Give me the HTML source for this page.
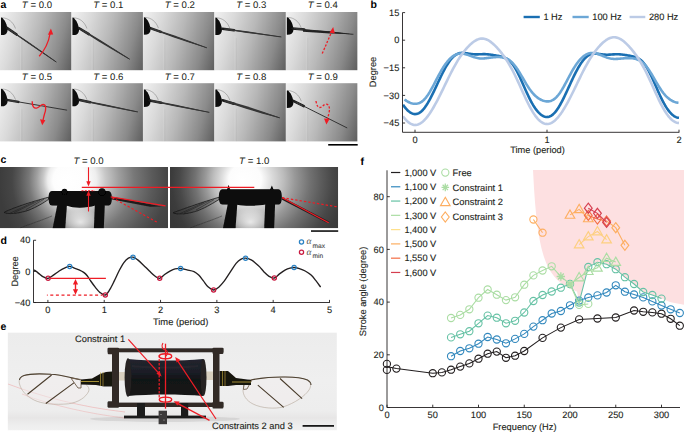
<!DOCTYPE html>
<html><head><meta charset="utf-8"><style>
html,body{margin:0;padding:0;background:#fff;}
body{width:685px;height:433px;overflow:hidden;}
svg{display:block;font-family:"Liberation Sans", sans-serif;text-rendering:geometricPrecision;}
</style></head><body>
<svg width="685" height="433" viewBox="0 0 685 433">
<defs><linearGradient id="ga" gradientUnits="userSpaceOnUse" x1="0" y1="0" x2="81.9" y2="23"><stop offset="0" stop-color="rgb(242,242,242)"/><stop offset="0.235" stop-color="rgb(218,218,218)"/><stop offset="0.5" stop-color="rgb(184,184,184)"/><stop offset="0.79" stop-color="rgb(138,138,138)"/><stop offset="1" stop-color="rgb(92,92,92)"/></linearGradient><filter id="soft" x="-5%" y="-5%" width="110%" height="110%"><feGaussianBlur stdDeviation="0.45"/></filter><filter id="soft2" x="-10%" y="-10%" width="120%" height="120%"><feGaussianBlur stdDeviation="0.3"/></filter><radialGradient id="gc1" gradientUnits="userSpaceOnUse" cx="96.5" cy="180" r="97.5" fx="64" fy="180"><stop offset="0" stop-color="rgb(255,255,255)"/><stop offset="0.17" stop-color="rgb(253,253,253)"/><stop offset="0.25" stop-color="rgb(238,238,238)"/><stop offset="0.32" stop-color="rgb(200,200,200)"/><stop offset="0.42" stop-color="rgb(160,160,160)"/><stop offset="0.54" stop-color="rgb(120,120,120)"/><stop offset="0.68" stop-color="rgb(90,90,90)"/><stop offset="0.8" stop-color="rgb(70,70,70)"/><stop offset="1.0" stop-color="rgb(60,60,60)"/></radialGradient><radialGradient id="gc2" gradientUnits="userSpaceOnUse" cx="259.5" cy="180" r="95.5" fx="242" fy="180"><stop offset="0" stop-color="rgb(255,255,255)"/><stop offset="0.17" stop-color="rgb(252,252,252)"/><stop offset="0.27" stop-color="rgb(218,218,218)"/><stop offset="0.37" stop-color="rgb(188,188,188)"/><stop offset="0.47" stop-color="rgb(152,152,152)"/><stop offset="0.6" stop-color="rgb(114,114,114)"/><stop offset="0.7" stop-color="rgb(92,92,92)"/><stop offset="0.8" stop-color="rgb(72,72,72)"/><stop offset="0.9" stop-color="rgb(60,60,60)"/><stop offset="1.0" stop-color="rgb(56,56,56)"/></radialGradient><radialGradient id="gglow"><stop offset="0" stop-color="#fff" stop-opacity="0.75"/><stop offset="0.6" stop-color="#fff" stop-opacity="0.35"/><stop offset="1" stop-color="#fff" stop-opacity="0"/></radialGradient><linearGradient id="gctop" x1="0" y1="0" x2="0" y2="1"><stop offset="0" stop-color="#000" stop-opacity="0.0"/><stop offset="0.35" stop-color="#000" stop-opacity="0"/></linearGradient><clipPath id="cc1"><rect x="0" y="167" width="168" height="61.3"/></clipPath><clipPath id="cc2"><rect x="170" y="167" width="168.2" height="61.3"/></clipPath><linearGradient id="ge" x1="0" y1="0" x2="0" y2="1"><stop offset="0" stop-color="#ececec"/><stop offset="0.5" stop-color="#efefef"/><stop offset="0.8" stop-color="#ededed"/><stop offset="0.87" stop-color="#e7e6e6"/><stop offset="0.95" stop-color="#eeeeee"/><stop offset="1" stop-color="#f1f1f1"/></linearGradient><linearGradient id="gcoil" x1="0" y1="0" x2="0" y2="1"><stop offset="0" stop-color="#22252e"/><stop offset="0.35" stop-color="#1b1e27"/><stop offset="0.55" stop-color="#111216"/><stop offset="1" stop-color="#141414"/></linearGradient><clipPath id="ce"><rect x="7.6" y="332.4" width="329.3" height="98.1"/></clipPath></defs>
<text x="0.5" y="7.9" font-size="10.5" text-anchor="start" font-weight="bold" font-style="normal" fill="#000" stroke="#000" stroke-width="0" >a</text>
<text x="370.5" y="7.9" font-size="10.5" text-anchor="start" font-weight="bold" font-style="normal" fill="#000" stroke="#000" stroke-width="0" >b</text>
<text x="0.5" y="163.2" font-size="10.5" text-anchor="start" font-weight="bold" font-style="normal" fill="#000" stroke="#000" stroke-width="0" >c</text>
<text x="0.5" y="243.5" font-size="10.5" text-anchor="start" font-weight="bold" font-style="normal" fill="#000" stroke="#000" stroke-width="0" >d</text>
<text x="0.5" y="329.8" font-size="10.5" text-anchor="start" font-weight="bold" font-style="normal" fill="#000" stroke="#000" stroke-width="0" >e</text>
<text x="360.4" y="165.2" font-size="10.5" text-anchor="start" font-weight="bold" font-style="normal" fill="#000" stroke="#000" stroke-width="0" >f</text>
<path d="M403,104.67 L404,106.1 L405,107.42 L406,108.63 L407,109.72 L408,110.7 L409,111.55 L410,112.29 L411,112.91 L412,113.4 L413,113.76 L414,114 L415,114.09 L416,114.05 L417,113.87 L418,113.55 L419,113.08 L420,112.47 L421,111.71 L422,110.81 L423,109.77 L424,108.59 L425,107.28 L426,105.85 L427,104.31 L428,102.65 L429,100.9 L430,99.06 L431,97.15 L432,95.17 L433,93.13 L434,91.06 L435,88.95 L436,86.83 L437,84.7 L438,82.56 L439,80.44 L440,78.34 L441,76.28 L442,74.25 L443,72.27 L444,70.35 L445,68.5 L446,66.73 L447,65.04 L448,63.44 L449,61.94 L450,60.55 L451,59.26 L452,58.1 L453,57.06 L454,56.13 L455,55.33 L456,54.66 L457,54.1 L458,53.65 L459,53.32 L460,53.09 L461,52.94 L462,52.88 L463,52.89 L464,52.96 L465,53.07 L466,53.21 L467,53.37 L468,53.54 L469,53.72 L470,53.88 L471,54.02 L472,54.14 L473,54.24 L474,54.3 L475,54.35 L476,54.36 L477,54.35 L478,54.33 L479,54.3 L480,54.26 L481,54.21 L482,54.18 L483,54.16 L484,54.15 L485,54.16 L486,54.19 L487,54.25 L488,54.33 L489,54.43 L490,54.55 L491,54.69 L492,54.84 L493,54.99 L494,55.16 L495,55.33 L496,55.51 L497,55.68 L498,55.87 L499,56.06 L500,56.26 L501,56.49 L502,56.75 L503,57.05 L504,57.39 L505,57.81 L506,58.3 L507,58.87 L508,59.55 L509,60.35 L510,61.26 L511,62.3 L512,63.48 L513,64.8 L514,66.25 L515,67.84 L516,69.55 L517,71.39 L518,73.33 L519,75.37 L520,77.5 L521,79.68 L522,81.92 L523,84.18 L524,86.45 L525,88.72 L526,90.96 L527,93.16 L528,95.31 L529,97.4 L530,99.4 L531,101.32 L532,103.15 L533,104.87 L534,106.49 L535,108 L536,109.4 L537,110.69 L538,111.86 L539,112.92 L540,113.86 L541,114.69 L542,115.39 L543,115.97 L544,116.42 L545,116.75 L546,116.94 L547,117 L548,116.92 L549,116.7 L550,116.33 L551,115.82 L552,115.17 L553,114.37 L554,113.42 L555,112.34 L556,111.12 L557,109.76 L558,108.29 L559,106.69 L560,105 L561,103.2 L562,101.31 L563,99.35 L564,97.33 L565,95.25 L566,93.13 L567,90.97 L568,88.8 L569,86.62 L570,84.44 L571,82.27 L572,80.13 L573,78.01 L574,75.94 L575,73.92 L576,71.95 L577,70.05 L578,68.23 L579,66.5 L580,64.85 L581,63.31 L582,61.87 L583,60.54 L584,59.33 L585,58.24 L586,57.28 L587,56.44 L588,55.71 L589,55.11 L590,54.63 L591,54.25 L592,53.98 L593,53.79 L594,53.69 L595,53.66 L596,53.69 L597,53.76 L598,53.87 L599,53.99 L600,54.13 L601,54.26 L602,54.39 L603,54.5 L604,54.59 L605,54.65 L606,54.69 L607,54.7 L608,54.69 L609,54.65 L610,54.6 L611,54.54 L612,54.47 L613,54.4 L614,54.35 L615,54.3 L616,54.27 L617,54.26 L618,54.27 L619,54.31 L620,54.37 L621,54.45 L622,54.56 L623,54.68 L624,54.81 L625,54.96 L626,55.11 L627,55.27 L628,55.44 L629,55.61 L630,55.78 L631,55.97 L632,56.17 L633,56.39 L634,56.65 L635,56.94 L636,57.29 L637,57.7 L638,58.19 L639,58.78 L640,59.46 L641,60.26 L642,61.17 L643,62.22 L644,63.41 L645,64.74 L646,66.2 L647,67.8 L648,69.53 L649,71.37 L650,73.34 L651,75.39 L652,77.53 L653,79.74 L654,81.99 L655,84.27 L656,86.56 L657,88.85 L658,91.12 L659,93.34 L660,95.52 L661,97.63 L662,99.66 L663,101.61 L664,103.46 L665,105.21 L666,106.86 L667,108.41 L668,109.84 L669,111.16 L670,112.37 L671,113.46 L672,114.43 L673,115.29 L674,116.03 L675,116.65 L676,117.14 L677,117.5 L678,117.74 L679,117.83" fill="none" stroke="#1a6fb2" stroke-width="2.6" stroke-linejoin="round" stroke-linecap="butt"/>
<path d="M404.5,99.41 L405.5,100.18 L406.5,100.87 L407.5,101.49 L408.5,102.03 L409.5,102.5 L410.5,102.9 L411.5,103.23 L412.5,103.49 L413.5,103.67 L414.5,103.78 L415.5,103.81 L416.5,103.74 L417.5,103.58 L418.5,103.32 L419.5,102.95 L420.5,102.46 L421.5,101.84 L422.5,101.11 L423.5,100.24 L424.5,99.24 L425.5,98.11 L426.5,96.86 L427.5,95.48 L428.5,93.99 L429.5,92.4 L430.5,90.71 L431.5,88.95 L432.5,87.12 L433.5,85.24 L434.5,83.33 L435.5,81.4 L436.5,79.47 L437.5,77.55 L438.5,75.66 L439.5,73.81 L440.5,72.01 L441.5,70.26 L442.5,68.59 L443.5,66.99 L444.5,65.48 L445.5,64.05 L446.5,62.71 L447.5,61.46 L448.5,60.31 L449.5,59.24 L450.5,58.27 L451.5,57.39 L452.5,56.61 L453.5,55.92 L454.5,55.31 L455.5,54.8 L456.5,54.38 L457.5,54.04 L458.5,53.79 L459.5,53.63 L460.5,53.54 L461.5,53.53 L462.5,53.6 L463.5,53.73 L464.5,53.92 L465.5,54.16 L466.5,54.45 L467.5,54.78 L468.5,55.13 L469.5,55.5 L470.5,55.88 L471.5,56.26 L472.5,56.63 L473.5,56.97 L474.5,57.3 L475.5,57.59 L476.5,57.84 L477.5,58.05 L478.5,58.22 L479.5,58.35 L480.5,58.43 L481.5,58.47 L482.5,58.47 L483.5,58.43 L484.5,58.36 L485.5,58.27 L486.5,58.16 L487.5,58.03 L488.5,57.9 L489.5,57.76 L490.5,57.62 L491.5,57.49 L492.5,57.37 L493.5,57.26 L494.5,57.17 L495.5,57.1 L496.5,57.05 L497.5,57.02 L498.5,57.02 L499.5,57.06 L500.5,57.13 L501.5,57.25 L502.5,57.4 L503.5,57.62 L504.5,57.89 L505.5,58.22 L506.5,58.63 L507.5,59.12 L508.5,59.7 L509.5,60.36 L510.5,61.13 L511.5,61.99 L512.5,62.96 L513.5,64.04 L514.5,65.22 L515.5,66.49 L516.5,67.87 L517.5,69.32 L518.5,70.86 L519.5,72.46 L520.5,74.12 L521.5,75.81 L522.5,77.52 L523.5,79.25 L524.5,80.96 L525.5,82.65 L526.5,84.31 L527.5,85.91 L528.5,87.45 L529.5,88.92 L530.5,90.32 L531.5,91.63 L532.5,92.85 L533.5,93.98 L534.5,95.02 L535.5,95.97 L536.5,96.83 L537.5,97.62 L538.5,98.32 L539.5,98.95 L540.5,99.5 L541.5,99.99 L542.5,100.4 L543.5,100.75 L544.5,101.03 L545.5,101.24 L546.5,101.36 L547.5,101.41 L548.5,101.37 L549.5,101.23 L550.5,100.99 L551.5,100.65 L552.5,100.19 L553.5,99.6 L554.5,98.89 L555.5,98.05 L556.5,97.09 L557.5,95.99 L558.5,94.77 L559.5,93.43 L560.5,91.97 L561.5,90.41 L562.5,88.77 L563.5,87.04 L564.5,85.25 L565.5,83.41 L566.5,81.54 L567.5,79.65 L568.5,77.76 L569.5,75.88 L570.5,74.03 L571.5,72.22 L572.5,70.46 L573.5,68.76 L574.5,67.14 L575.5,65.58 L576.5,64.11 L577.5,62.73 L578.5,61.44 L579.5,60.24 L580.5,59.13 L581.5,58.11 L582.5,57.19 L583.5,56.36 L584.5,55.62 L585.5,54.98 L586.5,54.43 L587.5,53.96 L588.5,53.59 L589.5,53.31 L590.5,53.11 L591.5,52.99 L592.5,52.95 L593.5,53 L594.5,53.11 L595.5,53.29 L596.5,53.53 L597.5,53.82 L598.5,54.16 L599.5,54.54 L600.5,54.94 L601.5,55.36 L602.5,55.79 L603.5,56.22 L604.5,56.63 L605.5,57.03 L606.5,57.4 L607.5,57.74 L608.5,58.04 L609.5,58.3 L610.5,58.52 L611.5,58.69 L612.5,58.81 L613.5,58.9 L614.5,58.94 L615.5,58.95 L616.5,58.92 L617.5,58.88 L618.5,58.81 L619.5,58.72 L620.5,58.63 L621.5,58.53 L622.5,58.43 L623.5,58.34 L624.5,58.26 L625.5,58.18 L626.5,58.13 L627.5,58.09 L628.5,58.07 L629.5,58.08 L630.5,58.12 L631.5,58.19 L632.5,58.29 L633.5,58.43 L634.5,58.62 L635.5,58.86 L636.5,59.16 L637.5,59.52 L638.5,59.95 L639.5,60.47 L640.5,61.06 L641.5,61.75 L642.5,62.54 L643.5,63.42 L644.5,64.41 L645.5,65.51 L646.5,66.7 L647.5,67.99 L648.5,69.38 L649.5,70.85 L650.5,72.4 L651.5,74.01 L652.5,75.67 L653.5,77.37 L654.5,79.1 L655.5,80.82 L656.5,82.54 L657.5,84.24 L658.5,85.9 L659.5,87.5 L660.5,89.04 L661.5,90.51 L662.5,91.9 L663.5,93.21 L664.5,94.42 L665.5,95.55 L666.5,96.58 L667.5,97.52 L668.5,98.38 L669.5,99.15 L670.5,99.84 L671.5,100.46 L672.5,101 L673.5,101.47 L674.5,101.87 L675.5,102.2 L676.5,102.46 L677.5,102.65 L678.5,102.75" fill="none" stroke="#6ca7d6" stroke-width="2.6" stroke-linejoin="round" stroke-linecap="butt"/>
<path d="M403,116.2 L404,117.55 L405,118.8 L406,119.94 L407,120.97 L408,121.88 L409,122.68 L410,123.35 L411,123.91 L412,124.35 L413,124.67 L414,124.87 L415,124.95 L416,124.91 L417,124.75 L418,124.47 L419,124.08 L420,123.58 L421,122.96 L422,122.24 L423,121.41 L424,120.49 L425,119.46 L426,118.34 L427,117.13 L428,115.84 L429,114.46 L430,113.01 L431,111.48 L432,109.89 L433,108.23 L434,106.51 L435,104.73 L436,102.91 L437,101.04 L438,99.12 L439,97.17 L440,95.18 L441,93.17 L442,91.13 L443,89.08 L444,87.01 L445,84.94 L446,82.88 L447,80.82 L448,78.77 L449,76.74 L450,74.74 L451,72.76 L452,70.83 L453,68.93 L454,67.08 L455,65.27 L456,63.52 L457,61.82 L458,60.18 L459,58.59 L460,57.06 L461,55.59 L462,54.17 L463,52.81 L464,51.51 L465,50.26 L466,49.06 L467,47.92 L468,46.83 L469,45.79 L470,44.82 L471,43.9 L472,43.04 L473,42.25 L474,41.52 L475,40.86 L476,40.28 L477,39.78 L478,39.36 L479,39.03 L480,38.78 L481,38.63 L482,38.57 L483,38.6 L484,38.73 L485,38.95 L486,39.27 L487,39.67 L488,40.17 L489,40.74 L490,41.39 L491,42.11 L492,42.91 L493,43.76 L494,44.67 L495,45.64 L496,46.65 L497,47.72 L498,48.82 L499,49.97 L500,51.16 L501,52.4 L502,53.67 L503,55 L504,56.37 L505,57.79 L506,59.26 L507,60.79 L508,62.38 L509,64.03 L510,65.74 L511,67.52 L512,69.36 L513,71.26 L514,73.23 L515,75.24 L516,77.31 L517,79.43 L518,81.58 L519,83.77 L520,85.97 L521,88.19 L522,90.41 L523,92.63 L524,94.83 L525,97 L526,99.14 L527,101.23 L528,103.26 L529,105.23 L530,107.13 L531,108.96 L532,110.69 L533,112.34 L534,113.89 L535,115.35 L536,116.69 L537,117.93 L538,119.06 L539,120.08 L540,120.99 L541,121.77 L542,122.44 L543,122.99 L544,123.42 L545,123.73 L546,123.92 L547,124 L548,123.95 L549,123.78 L550,123.5 L551,123.1 L552,122.58 L553,121.96 L554,121.23 L555,120.39 L556,119.46 L557,118.42 L558,117.29 L559,116.08 L560,114.77 L561,113.39 L562,111.93 L563,110.39 L564,108.79 L565,107.12 L566,105.4 L567,103.62 L568,101.78 L569,99.9 L570,97.98 L571,96.02 L572,94.03 L573,92 L574,89.96 L575,87.9 L576,85.83 L577,83.75 L578,81.68 L579,79.61 L580,77.56 L581,75.52 L582,73.51 L583,71.53 L584,69.59 L585,67.69 L586,65.83 L587,64.02 L588,62.26 L589,60.56 L590,58.91 L591,57.32 L592,55.79 L593,54.31 L594,52.89 L595,51.52 L596,50.21 L597,48.96 L598,47.76 L599,46.61 L600,45.52 L601,44.48 L602,43.5 L603,42.58 L604,41.72 L605,40.93 L606,40.2 L607,39.54 L608,38.96 L609,38.45 L610,38.03 L611,37.69 L612,37.45 L613,37.29 L614,37.23 L615,37.27 L616,37.4 L617,37.62 L618,37.94 L619,38.34 L620,38.83 L621,39.41 L622,40.06 L623,40.79 L624,41.58 L625,42.43 L626,43.35 L627,44.32 L628,45.33 L629,46.4 L630,47.51 L631,48.66 L632,49.85 L633,51.09 L634,52.37 L635,53.7 L636,55.07 L637,56.5 L638,57.98 L639,59.51 L640,61.1 L641,62.76 L642,64.48 L643,66.26 L644,68.1 L645,70.01 L646,71.98 L647,74 L648,76.08 L649,78.2 L650,80.36 L651,82.55 L652,84.76 L653,86.99 L654,89.22 L655,91.44 L656,93.65 L657,95.83 L658,97.97 L659,100.07 L660,102.11 L661,104.09 L662,106 L663,107.82 L664,109.57 L665,111.23 L666,112.78 L667,114.24 L668,115.6 L669,116.85 L670,117.99 L671,119.01 L672,119.93 L673,120.72 L674,121.4 L675,121.96 L676,122.4 L677,122.72 L678,122.91 L679,122.99" fill="none" stroke="#bccbe6" stroke-width="2.6" stroke-linejoin="round" stroke-linecap="butt"/>
<path d="M402.5,12.600000000000001 V132.3 H679.3" fill="none" stroke="#231f20" stroke-width="0.9"/>
<line x1="402.5" y1="12.6" x2="405.1" y2="12.6" stroke="#231f20" stroke-width="0.9" />
<text x="399.3" y="15.8" font-size="9.25" text-anchor="end" font-weight="normal" font-style="normal" fill="#231f20" stroke="#231f20" stroke-width="0.12" >15</text>
<line x1="402.5" y1="40.2" x2="405.1" y2="40.2" stroke="#231f20" stroke-width="0.9" />
<text x="399.3" y="43.4" font-size="9.25" text-anchor="end" font-weight="normal" font-style="normal" fill="#231f20" stroke="#231f20" stroke-width="0.12" >0</text>
<line x1="402.5" y1="67.8" x2="405.1" y2="67.8" stroke="#231f20" stroke-width="0.9" />
<text x="399.3" y="71" font-size="9.25" text-anchor="end" font-weight="normal" font-style="normal" fill="#231f20" stroke="#231f20" stroke-width="0.12" >−15</text>
<line x1="402.5" y1="95.4" x2="405.1" y2="95.4" stroke="#231f20" stroke-width="0.9" />
<text x="399.3" y="98.6" font-size="9.25" text-anchor="end" font-weight="normal" font-style="normal" fill="#231f20" stroke="#231f20" stroke-width="0.12" >−30</text>
<line x1="402.5" y1="123" x2="405.1" y2="123" stroke="#231f20" stroke-width="0.9" />
<text x="399.3" y="126.2" font-size="9.25" text-anchor="end" font-weight="normal" font-style="normal" fill="#231f20" stroke="#231f20" stroke-width="0.12" >−45</text>
<line x1="415" y1="132.3" x2="415" y2="129.7" stroke="#231f20" stroke-width="0.9" />
<text x="415" y="142.6" font-size="9.25" text-anchor="middle" font-weight="normal" font-style="normal" fill="#231f20" stroke="#231f20" stroke-width="0.12" >0</text>
<line x1="547" y1="132.3" x2="547" y2="129.7" stroke="#231f20" stroke-width="0.9" />
<text x="547" y="142.6" font-size="9.25" text-anchor="middle" font-weight="normal" font-style="normal" fill="#231f20" stroke="#231f20" stroke-width="0.12" >1</text>
<line x1="679" y1="132.3" x2="679" y2="129.7" stroke="#231f20" stroke-width="0.9" />
<text x="679" y="142.6" font-size="9.25" text-anchor="middle" font-weight="normal" font-style="normal" fill="#231f20" stroke="#231f20" stroke-width="0.12" >2</text>
<text x="537.5" y="153" font-size="9.25" text-anchor="middle" font-weight="normal" font-style="normal" fill="#231f20" stroke="#231f20" stroke-width="0.12" >Time (period)</text>
<text transform="translate(376.2,72) rotate(-90)" x="0" y="0" font-size="9.25" text-anchor="middle" fill="#231f20" stroke="#231f20" stroke-width="0.12">Degree</text>
<line x1="523.6" y1="17" x2="539.8" y2="17" stroke="#1a6fb2" stroke-width="2.4" />
<text x="543.4" y="20.2" font-size="9.25" text-anchor="start" font-weight="normal" font-style="normal" fill="#231f20" stroke="#231f20" stroke-width="0.12" >1 Hz</text>
<line x1="572.5" y1="17" x2="588.7" y2="17" stroke="#6ca7d6" stroke-width="2.4" />
<text x="592.3" y="20.2" font-size="9.25" text-anchor="start" font-weight="normal" font-style="normal" fill="#231f20" stroke="#231f20" stroke-width="0.12" >100 Hz</text>
<line x1="629.6" y1="17" x2="645.3" y2="17" stroke="#bccbe6" stroke-width="2.4" />
<text x="648.9" y="20.2" font-size="9.25" text-anchor="start" font-weight="normal" font-style="normal" fill="#231f20" stroke="#231f20" stroke-width="0.12" >280 Hz</text>
<path d="M34.1,269.9 C34.38,270.08 34.93,270.33 35.8,271 C36.67,271.67 38.13,272.97 39.3,273.9 C40.47,274.83 41.33,275.87 42.8,276.6 C44.27,277.33 46.33,278.55 48.1,278.3 C49.87,278.05 51.55,276.32 53.4,275.1 C55.25,273.88 57.27,272.22 59.2,271 C61.13,269.78 63.25,268.57 65,267.8 C66.75,267.03 68.13,266.35 69.7,266.4 C71.27,266.45 72.83,267.52 74.4,268.1 C75.97,268.68 77.55,269.18 79.1,269.9 C80.65,270.62 82.35,271.43 83.7,272.4 C85.05,273.37 86.03,274.27 87.2,275.7 C88.37,277.13 89.33,279.05 90.7,281 C92.07,282.95 93.83,285.47 95.4,287.4 C96.97,289.33 98.45,291.33 100.1,292.6 C101.75,293.87 103.7,295.48 105.3,295 C106.9,294.52 108.2,292.05 109.7,289.7 C111.2,287.35 112.75,284.02 114.3,280.9 C115.85,277.78 117.43,274.02 119,271 C120.57,267.98 122.13,264.93 123.7,262.8 C125.27,260.67 126.85,259.13 128.4,258.2 C129.95,257.27 131.45,256.92 133,257.2 C134.55,257.48 135.95,258.57 137.7,259.9 C139.45,261.23 141.55,263.35 143.5,265.2 C145.45,267.05 147.45,269.15 149.4,271 C151.35,272.85 153.48,275.08 155.2,276.3 C156.92,277.52 158.13,278.6 159.7,278.3 C161.27,278 162.82,275.75 164.6,274.5 C166.38,273.25 168.65,271.73 170.4,270.8 C172.15,269.87 173.4,269.28 175.1,268.9 C176.8,268.52 178.62,268.33 180.6,268.5 C182.58,268.67 184.77,269.38 187,269.9 C189.23,270.42 192.05,270.73 194,271.6 C195.95,272.47 197.13,273.55 198.7,275.1 C200.27,276.65 201.85,278.95 203.4,280.9 C204.95,282.85 206.3,285.28 208,286.8 C209.7,288.32 211.85,289.9 213.6,290 C215.35,290.1 216.7,288.92 218.5,287.4 C220.3,285.88 222.45,283.43 224.4,280.9 C226.35,278.37 228.25,275.12 230.2,272.2 C232.15,269.28 234.35,265.55 236.1,263.4 C237.85,261.25 239.12,260.17 240.7,259.3 C242.28,258.43 243.85,258.1 245.6,258.2 C247.35,258.3 249.48,259.03 251.2,259.9 C252.92,260.77 254.48,262.23 255.9,263.4 C257.32,264.57 258.3,265.43 259.7,266.9 C261.1,268.37 262.75,270.63 264.3,272.2 C265.85,273.77 267.33,275.33 269,276.3 C270.67,277.27 272.55,278.4 274.3,278 C276.05,277.6 277.65,275.25 279.5,273.9 C281.35,272.55 283.65,270.87 285.4,269.9 C287.15,268.93 288.55,268.5 290,268.1 C291.45,267.7 292.53,267.4 294.1,267.5 C295.67,267.6 297.55,268.12 299.4,268.7 C301.25,269.28 303.25,269.93 305.2,271 C307.15,272.07 309.35,273.53 311.1,275.1 C312.85,276.67 314.12,278.4 315.7,280.4 C317.28,282.4 319.78,285.98 320.6,287.1" fill="none" stroke="#231f20" stroke-width="1.35"/>
<path d="M33.5,240.28 V302.5 H329.9" fill="none" stroke="#231f20" stroke-width="0.9"/>
<line x1="33.5" y1="240.28" x2="36.1" y2="240.28" stroke="#231f20" stroke-width="0.9" />
<text x="30.4" y="243.48" font-size="9.25" text-anchor="end" font-weight="normal" font-style="normal" fill="#231f20" stroke="#231f20" stroke-width="0.12" >40</text>
<line x1="33.5" y1="271.4" x2="36.1" y2="271.4" stroke="#231f20" stroke-width="0.9" />
<text x="30.4" y="274.6" font-size="9.25" text-anchor="end" font-weight="normal" font-style="normal" fill="#231f20" stroke="#231f20" stroke-width="0.12" >0</text>
<line x1="33.5" y1="302.52" x2="36.1" y2="302.52" stroke="#231f20" stroke-width="0.9" />
<text x="30.4" y="305.72" font-size="9.25" text-anchor="end" font-weight="normal" font-style="normal" fill="#231f20" stroke="#231f20" stroke-width="0.12" >−40</text>
<line x1="47.9" y1="302.5" x2="47.9" y2="299.9" stroke="#231f20" stroke-width="0.9" />
<text x="47.9" y="312.9" font-size="9.25" text-anchor="middle" font-weight="normal" font-style="normal" fill="#231f20" stroke="#231f20" stroke-width="0.12" >0</text>
<line x1="104.22" y1="302.5" x2="104.22" y2="299.9" stroke="#231f20" stroke-width="0.9" />
<text x="104.22" y="312.9" font-size="9.25" text-anchor="middle" font-weight="normal" font-style="normal" fill="#231f20" stroke="#231f20" stroke-width="0.12" >1</text>
<line x1="160.54" y1="302.5" x2="160.54" y2="299.9" stroke="#231f20" stroke-width="0.9" />
<text x="160.54" y="312.9" font-size="9.25" text-anchor="middle" font-weight="normal" font-style="normal" fill="#231f20" stroke="#231f20" stroke-width="0.12" >2</text>
<line x1="216.86" y1="302.5" x2="216.86" y2="299.9" stroke="#231f20" stroke-width="0.9" />
<text x="216.86" y="312.9" font-size="9.25" text-anchor="middle" font-weight="normal" font-style="normal" fill="#231f20" stroke="#231f20" stroke-width="0.12" >3</text>
<line x1="273.18" y1="302.5" x2="273.18" y2="299.9" stroke="#231f20" stroke-width="0.9" />
<text x="273.18" y="312.9" font-size="9.25" text-anchor="middle" font-weight="normal" font-style="normal" fill="#231f20" stroke="#231f20" stroke-width="0.12" >4</text>
<line x1="329.5" y1="302.5" x2="329.5" y2="299.9" stroke="#231f20" stroke-width="0.9" />
<text x="329.5" y="312.9" font-size="9.25" text-anchor="middle" font-weight="normal" font-style="normal" fill="#231f20" stroke="#231f20" stroke-width="0.12" >5</text>
<text x="180.6" y="324.9" font-size="9.4" text-anchor="middle" font-weight="normal" font-style="normal" fill="#231f20" stroke="#231f20" stroke-width="0.12" >Time (period)</text>
<text transform="translate(18,271.4) rotate(-90)" x="0" y="0" font-size="9.25" text-anchor="middle" fill="#231f20" stroke="#231f20" stroke-width="0.12">Degree</text>
<line x1="50.4" y1="278.3" x2="105.9" y2="278.3" stroke="#ee1c25" stroke-width="1.35" />
<line x1="46.9" y1="295.2" x2="102.4" y2="295.2" stroke="#ee1c25" stroke-width="1.3" stroke-dasharray="3,2.6" stroke-dashoffset="2.2"/>
<line x1="75.5" y1="283" x2="75.5" y2="290.6" stroke="#ee1c25" stroke-width="1.4" />
<path d="M75.5,279.0 L72.9,284.6 L78.1,284.6 Z M75.5,294.8 L72.9,289.2 L78.1,289.2 Z" fill="#ee1c25"/>
<circle cx="48.1" cy="278.3" r="2.1" fill="none" stroke="#c8193f" stroke-width="1.25"/>
<circle cx="105.3" cy="295" r="2.1" fill="none" stroke="#c8193f" stroke-width="1.25"/>
<circle cx="159.7" cy="278.3" r="2.1" fill="none" stroke="#c8193f" stroke-width="1.25"/>
<circle cx="213.6" cy="290" r="2.1" fill="none" stroke="#c8193f" stroke-width="1.25"/>
<circle cx="274.3" cy="278" r="2.1" fill="none" stroke="#c8193f" stroke-width="1.25"/>
<circle cx="69.7" cy="266.4" r="2.1" fill="none" stroke="#2a82c4" stroke-width="1.25"/>
<circle cx="133" cy="257.2" r="2.1" fill="none" stroke="#2a82c4" stroke-width="1.25"/>
<circle cx="180.6" cy="268.5" r="2.1" fill="none" stroke="#2a82c4" stroke-width="1.25"/>
<circle cx="245.6" cy="258.2" r="2.1" fill="none" stroke="#2a82c4" stroke-width="1.25"/>
<circle cx="294.1" cy="267.5" r="2.1" fill="none" stroke="#2a82c4" stroke-width="1.25"/>
<circle cx="301.5" cy="242" r="2.1" fill="none" stroke="#2a82c4" stroke-width="1.25"/>
<circle cx="301.5" cy="252.3" r="2.1" fill="none" stroke="#c8193f" stroke-width="1.25"/>
<text x="306.5" y="244.3" font-size="9.5" font-family="Liberation Serif, serif" font-style="italic" fill="#555">α</text>
<text x="312.6" y="247.7" font-size="6.6" text-anchor="start" font-weight="normal" font-style="normal" fill="#444" stroke="#444" stroke-width="0.12" >max</text>
<text x="306.5" y="254.6" font-size="9.5" font-family="Liberation Serif, serif" font-style="italic" fill="#555">α</text>
<text x="312.6" y="258" font-size="6.6" text-anchor="start" font-weight="normal" font-style="normal" fill="#444" stroke="#444" stroke-width="0.12" >min</text>
<path d="M533,170 L533,170 L534,188.18 L535,202.18 L536,213.3 L537,222.34 L538,229.83 L539,236.14 L540,241.53 L541,246.19 L542,250.25 L543,253.83 L544,257.01 L545,259.84 L546,262.39 L547,264.69 L548,266.77 L549,268.68 L550,270.42 L551,272.02 L552,273.5 L553,274.87 L554,276.14 L555,277.32 L556,278.42 L557,279.45 L558,280.41 L559,281.31 L560,282.17 L561,282.97 L562,283.73 L563,284.44 L564,285.12 L565,285.76 L566,286.37 L567,286.95 L568,287.51 L569,288.03 L570,288.54 L571,289.02 L572,289.47 L573,289.91 L574,290.34 L575,290.74 L576,291.13 L577,291.5 L579.2,302.5 L588.3,267 L597.5,262.2 L606.6,264.2 L615.8,269.2 L624.9,277.2 L634.1,284 L643.2,292 L652.4,295 L661.5,298.6 L670.7,302.3 L684,304.7 L684,170 Z" fill="#fde0e1"/>
<path d="M387,170.3 V407.5 H680" fill="none" stroke="#231f20" stroke-width="0.9"/>
<line x1="387" y1="407.5" x2="389.8" y2="407.5" stroke="#231f20" stroke-width="0.9" />
<text x="383.8" y="410.7" font-size="9.25" text-anchor="end" font-weight="normal" font-style="normal" fill="#231f20" stroke="#231f20" stroke-width="0.12" >0</text>
<line x1="387" y1="354.8" x2="389.8" y2="354.8" stroke="#231f20" stroke-width="0.9" />
<text x="383.8" y="358" font-size="9.25" text-anchor="end" font-weight="normal" font-style="normal" fill="#231f20" stroke="#231f20" stroke-width="0.12" >20</text>
<line x1="387" y1="302.1" x2="389.8" y2="302.1" stroke="#231f20" stroke-width="0.9" />
<text x="383.8" y="305.3" font-size="9.25" text-anchor="end" font-weight="normal" font-style="normal" fill="#231f20" stroke="#231f20" stroke-width="0.12" >40</text>
<line x1="387" y1="249.4" x2="389.8" y2="249.4" stroke="#231f20" stroke-width="0.9" />
<text x="383.8" y="252.6" font-size="9.25" text-anchor="end" font-weight="normal" font-style="normal" fill="#231f20" stroke="#231f20" stroke-width="0.12" >60</text>
<line x1="387" y1="196.7" x2="389.8" y2="196.7" stroke="#231f20" stroke-width="0.9" />
<text x="383.8" y="199.9" font-size="9.25" text-anchor="end" font-weight="normal" font-style="normal" fill="#231f20" stroke="#231f20" stroke-width="0.12" >80</text>
<line x1="387" y1="407.5" x2="387" y2="404.7" stroke="#231f20" stroke-width="0.9" />
<text x="387" y="417.9" font-size="9.25" text-anchor="middle" font-weight="normal" font-style="normal" fill="#231f20" stroke="#231f20" stroke-width="0.12" >0</text>
<line x1="432.75" y1="407.5" x2="432.75" y2="404.7" stroke="#231f20" stroke-width="0.9" />
<text x="432.75" y="417.9" font-size="9.25" text-anchor="middle" font-weight="normal" font-style="normal" fill="#231f20" stroke="#231f20" stroke-width="0.12" >50</text>
<line x1="478.5" y1="407.5" x2="478.5" y2="404.7" stroke="#231f20" stroke-width="0.9" />
<text x="478.5" y="417.9" font-size="9.25" text-anchor="middle" font-weight="normal" font-style="normal" fill="#231f20" stroke="#231f20" stroke-width="0.12" >100</text>
<line x1="524.25" y1="407.5" x2="524.25" y2="404.7" stroke="#231f20" stroke-width="0.9" />
<text x="524.25" y="417.9" font-size="9.25" text-anchor="middle" font-weight="normal" font-style="normal" fill="#231f20" stroke="#231f20" stroke-width="0.12" >150</text>
<line x1="570" y1="407.5" x2="570" y2="404.7" stroke="#231f20" stroke-width="0.9" />
<text x="570" y="417.9" font-size="9.25" text-anchor="middle" font-weight="normal" font-style="normal" fill="#231f20" stroke="#231f20" stroke-width="0.12" >200</text>
<line x1="615.75" y1="407.5" x2="615.75" y2="404.7" stroke="#231f20" stroke-width="0.9" />
<text x="615.75" y="417.9" font-size="9.25" text-anchor="middle" font-weight="normal" font-style="normal" fill="#231f20" stroke="#231f20" stroke-width="0.12" >250</text>
<line x1="661.5" y1="407.5" x2="661.5" y2="404.7" stroke="#231f20" stroke-width="0.9" />
<text x="661.5" y="417.9" font-size="9.25" text-anchor="middle" font-weight="normal" font-style="normal" fill="#231f20" stroke="#231f20" stroke-width="0.12" >300</text>
<text x="524.6" y="430.2" font-size="9.25" text-anchor="middle" font-weight="normal" font-style="normal" fill="#231f20" stroke="#231f20" stroke-width="0.12" >Frequency (Hz)</text>
<text transform="translate(366.2,291.4) rotate(-90)" x="0" y="0" font-size="9.25" text-anchor="middle" fill="#231f20" stroke="#231f20" stroke-width="0.12">Stroke angle (degree)</text>
<line x1="391" y1="172.5" x2="400.3" y2="172.5" stroke="#231f20" stroke-width="1.2" />
<text x="404.4" y="175.7" font-size="9.25" text-anchor="start" font-weight="normal" font-style="normal" fill="#231f20" stroke="#231f20" stroke-width="0.12" >1,000 V</text>
<line x1="391" y1="186.78" x2="400.3" y2="186.78" stroke="#3288bd" stroke-width="1.2" />
<text x="404.4" y="189.98" font-size="9.25" text-anchor="start" font-weight="normal" font-style="normal" fill="#231f20" stroke="#231f20" stroke-width="0.12" >1,100 V</text>
<line x1="391" y1="201.06" x2="400.3" y2="201.06" stroke="#66c2a5" stroke-width="1.2" />
<text x="404.4" y="204.26" font-size="9.25" text-anchor="start" font-weight="normal" font-style="normal" fill="#231f20" stroke="#231f20" stroke-width="0.12" >1,200 V</text>
<line x1="391" y1="215.34" x2="400.3" y2="215.34" stroke="#abdda4" stroke-width="1.2" />
<text x="404.4" y="218.54" font-size="9.25" text-anchor="start" font-weight="normal" font-style="normal" fill="#231f20" stroke="#231f20" stroke-width="0.12" >1,300 V</text>
<line x1="391" y1="229.62" x2="400.3" y2="229.62" stroke="#fee08b" stroke-width="1.2" />
<text x="404.4" y="232.82" font-size="9.25" text-anchor="start" font-weight="normal" font-style="normal" fill="#231f20" stroke="#231f20" stroke-width="0.12" >1,400 V</text>
<line x1="391" y1="243.9" x2="400.3" y2="243.9" stroke="#fdae61" stroke-width="1.2" />
<text x="404.4" y="247.1" font-size="9.25" text-anchor="start" font-weight="normal" font-style="normal" fill="#231f20" stroke="#231f20" stroke-width="0.12" >1,500 V</text>
<line x1="391" y1="258.18" x2="400.3" y2="258.18" stroke="#f46d43" stroke-width="1.2" />
<text x="404.4" y="261.38" font-size="9.25" text-anchor="start" font-weight="normal" font-style="normal" fill="#231f20" stroke="#231f20" stroke-width="0.12" >1,550 V</text>
<line x1="391" y1="272.46" x2="400.3" y2="272.46" stroke="#d53e4f" stroke-width="1.2" />
<text x="404.4" y="275.66" font-size="9.25" text-anchor="start" font-weight="normal" font-style="normal" fill="#231f20" stroke="#231f20" stroke-width="0.12" >1,600 V</text>
<text x="452.6" y="175.8" font-size="9.35" text-anchor="start" font-weight="normal" font-style="normal" fill="#231f20" stroke="#231f20" stroke-width="0.12" >Free</text>
<text x="452.6" y="190.6" font-size="9.35" text-anchor="start" font-weight="normal" font-style="normal" fill="#231f20" stroke="#231f20" stroke-width="0.12" >Constraint 1</text>
<text x="452.6" y="205.4" font-size="9.35" text-anchor="start" font-weight="normal" font-style="normal" fill="#231f20" stroke="#231f20" stroke-width="0.12" >Constraint 2</text>
<text x="452.6" y="220.2" font-size="9.35" text-anchor="start" font-weight="normal" font-style="normal" fill="#231f20" stroke="#231f20" stroke-width="0.12" >Constraint 3</text>
<circle cx="445.3" cy="172.6" r="3.6" fill="none" stroke="#abdda4" stroke-width="1.1"/>
<path d="M441.5,187.4 L449.1,187.4 M442.61,184.71 L447.99,190.09 M445.3,183.6 L445.3,191.2 M447.99,184.71 L442.61,190.09 " stroke="#abdda4" stroke-width="1.3" fill="none"/>
<path d="M445.3,197.32 L450.1,205.62 L440.5,205.62 Z" fill="none" stroke="#fdae61" stroke-width="1.15" stroke-linejoin="miter"/>
<path d="M445.3,212 L449.2,217 L445.3,222 L441.4,217 Z" fill="none" stroke="#fdae61" stroke-width="1.15"/>
<path d="M387.5,366.8 L396.4,368.6 L432.75,373.2 L441.9,372.4 L451.05,369.7 L460.2,366.6 L469.35,363.4 L478.5,358.7 L487.65,353.7 L496.8,351.6 L505.95,357.8 L515.1,355.7 L524.25,351 L542.55,337.9 L560.85,327.6 L579.15,319.4 L597.45,318.5 L615.75,317.5 L634.05,310.5 L643.2,311.8 L652.35,312.4 L661.5,313.7 L670.65,318.8 L679.8,325.7" fill="none" stroke="#231f20" stroke-width="1.05"/>
<circle cx="386.9" cy="363.9" r="3.6" fill="none" stroke="#231f20" stroke-width="1.1"/>
<circle cx="386.9" cy="369.9" r="3.6" fill="none" stroke="#231f20" stroke-width="1.1"/>
<circle cx="396.4" cy="368.6" r="3.6" fill="none" stroke="#231f20" stroke-width="1.1"/>
<circle cx="432.75" cy="373.2" r="3.6" fill="none" stroke="#231f20" stroke-width="1.1"/>
<circle cx="441.9" cy="372.4" r="3.6" fill="none" stroke="#231f20" stroke-width="1.1"/>
<circle cx="451.05" cy="369.7" r="3.6" fill="none" stroke="#231f20" stroke-width="1.1"/>
<circle cx="460.2" cy="366.6" r="3.6" fill="none" stroke="#231f20" stroke-width="1.1"/>
<circle cx="469.35" cy="363.4" r="3.6" fill="none" stroke="#231f20" stroke-width="1.1"/>
<circle cx="478.5" cy="358.7" r="3.6" fill="none" stroke="#231f20" stroke-width="1.1"/>
<circle cx="487.65" cy="353.7" r="3.6" fill="none" stroke="#231f20" stroke-width="1.1"/>
<circle cx="496.8" cy="351.6" r="3.6" fill="none" stroke="#231f20" stroke-width="1.1"/>
<circle cx="505.95" cy="357.8" r="3.6" fill="none" stroke="#231f20" stroke-width="1.1"/>
<circle cx="515.1" cy="355.7" r="3.6" fill="none" stroke="#231f20" stroke-width="1.1"/>
<circle cx="524.25" cy="351" r="3.6" fill="none" stroke="#231f20" stroke-width="1.1"/>
<circle cx="542.55" cy="337.9" r="3.6" fill="none" stroke="#231f20" stroke-width="1.1"/>
<circle cx="560.85" cy="327.6" r="3.6" fill="none" stroke="#231f20" stroke-width="1.1"/>
<circle cx="579.15" cy="319.4" r="3.6" fill="none" stroke="#231f20" stroke-width="1.1"/>
<circle cx="597.45" cy="318.5" r="3.6" fill="none" stroke="#231f20" stroke-width="1.1"/>
<circle cx="615.75" cy="317.5" r="3.6" fill="none" stroke="#231f20" stroke-width="1.1"/>
<circle cx="634.05" cy="310.5" r="3.6" fill="none" stroke="#231f20" stroke-width="1.1"/>
<circle cx="643.2" cy="311.8" r="3.6" fill="none" stroke="#231f20" stroke-width="1.1"/>
<circle cx="652.35" cy="312.4" r="3.6" fill="none" stroke="#231f20" stroke-width="1.1"/>
<circle cx="661.5" cy="313.7" r="3.6" fill="none" stroke="#231f20" stroke-width="1.1"/>
<circle cx="670.65" cy="318.8" r="3.6" fill="none" stroke="#231f20" stroke-width="1.1"/>
<circle cx="679.8" cy="325.7" r="3.6" fill="none" stroke="#231f20" stroke-width="1.1"/>
<path d="M451.05,356.2 L460.2,351 L469.35,348.3 L478.5,343.7 L487.65,337 L496.8,339.5 L505.95,343.3 L515.1,338.9 L524.25,333.9 L533.4,326.6 L542.55,320.2 L551.7,313.5 L560.85,311 L570,305.3 L579.15,300.6 L588.3,297.5 L597.45,295.4 L606.6,292.5 L615.75,285.3 L624.9,291.7 L634.05,294.5 L643.2,297.4 L652.35,301.4 L661.5,305.5 L670.65,309.3 L679.8,313" fill="none" stroke="#3288bd" stroke-width="1.05"/>
<circle cx="451.05" cy="356.2" r="3.6" fill="none" stroke="#3288bd" stroke-width="1.1"/>
<circle cx="460.2" cy="351" r="3.6" fill="none" stroke="#3288bd" stroke-width="1.1"/>
<circle cx="469.35" cy="348.3" r="3.6" fill="none" stroke="#3288bd" stroke-width="1.1"/>
<circle cx="478.5" cy="343.7" r="3.6" fill="none" stroke="#3288bd" stroke-width="1.1"/>
<circle cx="487.65" cy="337" r="3.6" fill="none" stroke="#3288bd" stroke-width="1.1"/>
<circle cx="496.8" cy="339.5" r="3.6" fill="none" stroke="#3288bd" stroke-width="1.1"/>
<circle cx="505.95" cy="343.3" r="3.6" fill="none" stroke="#3288bd" stroke-width="1.1"/>
<circle cx="515.1" cy="338.9" r="3.6" fill="none" stroke="#3288bd" stroke-width="1.1"/>
<circle cx="524.25" cy="333.9" r="3.6" fill="none" stroke="#3288bd" stroke-width="1.1"/>
<circle cx="533.4" cy="326.6" r="3.6" fill="none" stroke="#3288bd" stroke-width="1.1"/>
<circle cx="542.55" cy="320.2" r="3.6" fill="none" stroke="#3288bd" stroke-width="1.1"/>
<circle cx="551.7" cy="313.5" r="3.6" fill="none" stroke="#3288bd" stroke-width="1.1"/>
<circle cx="560.85" cy="311" r="3.6" fill="none" stroke="#3288bd" stroke-width="1.1"/>
<circle cx="570" cy="305.3" r="3.6" fill="none" stroke="#3288bd" stroke-width="1.1"/>
<circle cx="579.15" cy="300.6" r="3.6" fill="none" stroke="#3288bd" stroke-width="1.1"/>
<circle cx="588.3" cy="297.5" r="3.6" fill="none" stroke="#3288bd" stroke-width="1.1"/>
<circle cx="597.45" cy="295.4" r="3.6" fill="none" stroke="#3288bd" stroke-width="1.1"/>
<circle cx="606.6" cy="292.5" r="3.6" fill="none" stroke="#3288bd" stroke-width="1.1"/>
<circle cx="615.75" cy="285.3" r="3.6" fill="none" stroke="#3288bd" stroke-width="1.1"/>
<circle cx="624.9" cy="291.7" r="3.6" fill="none" stroke="#3288bd" stroke-width="1.1"/>
<circle cx="634.05" cy="294.5" r="3.6" fill="none" stroke="#3288bd" stroke-width="1.1"/>
<circle cx="643.2" cy="297.4" r="3.6" fill="none" stroke="#3288bd" stroke-width="1.1"/>
<circle cx="652.35" cy="301.4" r="3.6" fill="none" stroke="#3288bd" stroke-width="1.1"/>
<circle cx="661.5" cy="305.5" r="3.6" fill="none" stroke="#3288bd" stroke-width="1.1"/>
<circle cx="670.65" cy="309.3" r="3.6" fill="none" stroke="#3288bd" stroke-width="1.1"/>
<circle cx="679.8" cy="313" r="3.6" fill="none" stroke="#3288bd" stroke-width="1.1"/>
<path d="M451.05,337.4 L460.2,334.3 L469.35,331.2 L478.5,323.3 L487.65,315.6 L496.8,317.7 L505.95,323.3 L515.1,320.8 L524.25,312.5 L533.4,301 L542.55,295 L551.7,291.5 L560.85,287.7 L570,284 L579.15,302.5 L588.3,267 L597.45,262.2 L606.6,264.2 L615.75,269.2 L624.9,277.2 L634.05,284 L643.2,292 L652.35,295 L661.5,298.6" fill="none" stroke="#66c2a5" stroke-width="1.05"/>
<circle cx="451.05" cy="337.4" r="3.6" fill="none" stroke="#66c2a5" stroke-width="1.1"/>
<circle cx="460.2" cy="334.3" r="3.6" fill="none" stroke="#66c2a5" stroke-width="1.1"/>
<circle cx="469.35" cy="331.2" r="3.6" fill="none" stroke="#66c2a5" stroke-width="1.1"/>
<circle cx="478.5" cy="323.3" r="3.6" fill="none" stroke="#66c2a5" stroke-width="1.1"/>
<circle cx="487.65" cy="315.6" r="3.6" fill="none" stroke="#66c2a5" stroke-width="1.1"/>
<circle cx="496.8" cy="317.7" r="3.6" fill="none" stroke="#66c2a5" stroke-width="1.1"/>
<circle cx="505.95" cy="323.3" r="3.6" fill="none" stroke="#66c2a5" stroke-width="1.1"/>
<circle cx="515.1" cy="320.8" r="3.6" fill="none" stroke="#66c2a5" stroke-width="1.1"/>
<circle cx="524.25" cy="312.5" r="3.6" fill="none" stroke="#66c2a5" stroke-width="1.1"/>
<circle cx="533.4" cy="301" r="3.6" fill="none" stroke="#66c2a5" stroke-width="1.1"/>
<circle cx="542.55" cy="295" r="3.6" fill="none" stroke="#66c2a5" stroke-width="1.1"/>
<circle cx="551.7" cy="291.5" r="3.6" fill="none" stroke="#66c2a5" stroke-width="1.1"/>
<circle cx="560.85" cy="287.7" r="3.6" fill="none" stroke="#66c2a5" stroke-width="1.1"/>
<circle cx="570" cy="284" r="3.6" fill="none" stroke="#66c2a5" stroke-width="1.1"/>
<circle cx="579.15" cy="302.5" r="3.6" fill="none" stroke="#66c2a5" stroke-width="1.1"/>
<circle cx="588.3" cy="267" r="3.6" fill="none" stroke="#66c2a5" stroke-width="1.1"/>
<circle cx="597.45" cy="262.2" r="3.6" fill="none" stroke="#66c2a5" stroke-width="1.1"/>
<circle cx="606.6" cy="264.2" r="3.6" fill="none" stroke="#66c2a5" stroke-width="1.1"/>
<circle cx="615.75" cy="269.2" r="3.6" fill="none" stroke="#66c2a5" stroke-width="1.1"/>
<circle cx="624.9" cy="277.2" r="3.6" fill="none" stroke="#66c2a5" stroke-width="1.1"/>
<circle cx="634.05" cy="284" r="3.6" fill="none" stroke="#66c2a5" stroke-width="1.1"/>
<circle cx="643.2" cy="292" r="3.6" fill="none" stroke="#66c2a5" stroke-width="1.1"/>
<circle cx="652.35" cy="295" r="3.6" fill="none" stroke="#66c2a5" stroke-width="1.1"/>
<circle cx="661.5" cy="298.6" r="3.6" fill="none" stroke="#66c2a5" stroke-width="1.1"/>
<path d="M451.05,318 L460.2,314.9 L469.35,309.3 L478.5,297.7 L487.65,289.5 L496.8,294.7 L505.95,300.1 L515.1,297.3 L524.25,284.7 L533.4,275.4 L542.55,270.5 L551.7,266.3 L560.85,276.5 L570,284 L579.15,277.5 L588.3,271.2 L597.45,267.8 L606.6,258.2 L615.75,262.1" fill="none" stroke="#abdda4" stroke-width="1.05"/>
<path d="M570,284 L579.15,304.9 L588.3,303.9" fill="none" stroke="#abdda4" stroke-width="1.05"/>
<circle cx="451.05" cy="318" r="3.6" fill="none" stroke="#abdda4" stroke-width="1.1"/>
<circle cx="460.2" cy="314.9" r="3.6" fill="none" stroke="#abdda4" stroke-width="1.1"/>
<circle cx="469.35" cy="309.3" r="3.6" fill="none" stroke="#abdda4" stroke-width="1.1"/>
<circle cx="478.5" cy="297.7" r="3.6" fill="none" stroke="#abdda4" stroke-width="1.1"/>
<circle cx="487.65" cy="289.5" r="3.6" fill="none" stroke="#abdda4" stroke-width="1.1"/>
<circle cx="496.8" cy="294.7" r="3.6" fill="none" stroke="#abdda4" stroke-width="1.1"/>
<circle cx="505.95" cy="300.1" r="3.6" fill="none" stroke="#abdda4" stroke-width="1.1"/>
<circle cx="515.1" cy="297.3" r="3.6" fill="none" stroke="#abdda4" stroke-width="1.1"/>
<circle cx="524.25" cy="284.7" r="3.6" fill="none" stroke="#abdda4" stroke-width="1.1"/>
<circle cx="533.4" cy="275.4" r="3.6" fill="none" stroke="#abdda4" stroke-width="1.1"/>
<circle cx="542.55" cy="270.5" r="3.6" fill="none" stroke="#abdda4" stroke-width="1.1"/>
<circle cx="551.7" cy="266.3" r="3.6" fill="none" stroke="#abdda4" stroke-width="1.1"/>
<circle cx="579.15" cy="304.9" r="3.6" fill="none" stroke="#abdda4" stroke-width="1.1"/>
<circle cx="588.3" cy="303.9" r="3.6" fill="none" stroke="#abdda4" stroke-width="1.1"/>
<path d="M556.65,276.5 L565.05,276.5 M557.88,273.53 L563.82,279.47 M560.85,272.3 L560.85,280.7 M563.82,273.53 L557.88,279.47 " stroke="#abdda4" stroke-width="1.3" fill="none"/>
<path d="M565.8,284 L574.2,284 M567.03,281.03 L572.97,286.97 M570,279.8 L570,288.2 M572.97,281.03 L567.03,286.97 " stroke="#abdda4" stroke-width="1.3" fill="none"/>
<path d="M579.15,272.52 L583.95,280.82 L574.35,280.82 Z" fill="none" stroke="#abdda4" stroke-width="1.15" stroke-linejoin="miter"/>
<path d="M588.3,266.22 L593.1,274.52 L583.5,274.52 Z" fill="none" stroke="#abdda4" stroke-width="1.15" stroke-linejoin="miter"/>
<path d="M597.45,262.82 L602.25,271.12 L592.65,271.12 Z" fill="none" stroke="#abdda4" stroke-width="1.15" stroke-linejoin="miter"/>
<path d="M606.6,253.22 L611.4,261.52 L601.8,261.52 Z" fill="none" stroke="#abdda4" stroke-width="1.15" stroke-linejoin="miter"/>
<path d="M615.75,257.12 L620.55,265.42 L610.95,265.42 Z" fill="none" stroke="#abdda4" stroke-width="1.15" stroke-linejoin="miter"/>
<path d="M579.15,244.6 L588.3,236.6 L597.45,231.5 L606.6,239.6" fill="none" stroke="#fdcf80" stroke-width="1.05"/>
<path d="M579.15,239.62 L583.95,247.92 L574.35,247.92 Z" fill="none" stroke="#fdcf80" stroke-width="1.15" stroke-linejoin="miter"/>
<path d="M588.3,231.62 L593.1,239.92 L583.5,239.92 Z" fill="none" stroke="#fdcf80" stroke-width="1.15" stroke-linejoin="miter"/>
<path d="M597.45,226.52 L602.25,234.82 L592.65,234.82 Z" fill="none" stroke="#fdcf80" stroke-width="1.15" stroke-linejoin="miter"/>
<path d="M606.6,234.62 L611.4,242.92 L601.8,242.92 Z" fill="none" stroke="#fdcf80" stroke-width="1.15" stroke-linejoin="miter"/>
<path d="M533.4,219.5 L542.55,232.7" fill="none" stroke="#fdae61" stroke-width="1.05"/>
<circle cx="533.4" cy="219.5" r="3.6" fill="none" stroke="#fdae61" stroke-width="1.1"/>
<circle cx="542.55" cy="232.7" r="3.6" fill="none" stroke="#fdae61" stroke-width="1.1"/>
<path d="M570,214.9 L579.15,209.3 L588.3,218.4" fill="none" stroke="#fdae61" stroke-width="1.05"/>
<path d="M570,209.92 L574.8,218.22 L565.2,218.22 Z" fill="none" stroke="#fdae61" stroke-width="1.15" stroke-linejoin="miter"/>
<path d="M579.15,204.32 L583.95,212.62 L574.35,212.62 Z" fill="none" stroke="#fdae61" stroke-width="1.15" stroke-linejoin="miter"/>
<path d="M588.3,213.42 L593.1,221.72 L583.5,221.72 Z" fill="none" stroke="#fdae61" stroke-width="1.15" stroke-linejoin="miter"/>
<path d="M588.3,215.4 L597.45,219 L606.6,221" fill="none" stroke="#f46d43" stroke-width="1.05"/>
<path d="M606.6,221 L615.75,227.7 L624.9,245.3" fill="none" stroke="#fdae61" stroke-width="1.05"/>
<path d="M588.3,210.4 L592.2,215.4 L588.3,220.4 L584.4,215.4 Z" fill="none" stroke="#f46d43" stroke-width="1.15"/>
<path d="M597.45,214 L601.35,219 L597.45,224 L593.55,219 Z" fill="none" stroke="#f46d43" stroke-width="1.15"/>
<path d="M606.6,216 L610.5,221 L606.6,226 L602.7,221 Z" fill="none" stroke="#f46d43" stroke-width="1.15"/>
<path d="M615.75,222.7 L619.65,227.7 L615.75,232.7 L611.85,227.7 Z" fill="none" stroke="#fdae61" stroke-width="1.15"/>
<path d="M624.9,240.3 L628.8,245.3 L624.9,250.3 L621,245.3 Z" fill="none" stroke="#fdae61" stroke-width="1.15"/>
<path d="M588.3,208.2 L597.45,213.3 L606.6,222.4" fill="none" stroke="#d53e4f" stroke-width="1.05"/>
<path d="M588.3,203.2 L592.2,208.2 L588.3,213.2 L584.4,208.2 Z" fill="none" stroke="#d53e4f" stroke-width="1.15"/>
<path d="M597.45,208.3 L601.35,213.3 L597.45,218.3 L593.55,213.3 Z" fill="none" stroke="#d53e4f" stroke-width="1.15"/>
<path d="M606.6,217.4 L610.5,222.4 L606.6,227.4 L602.7,222.4 Z" fill="none" stroke="#d53e4f" stroke-width="1.15"/>
<g transform="translate(0,12)"><rect x="0" y="0" width="71.51" height="58.2" fill="url(#ga)"/><g filter="url(#soft)"><path d="M20.5,24 V58.2" stroke="#ffffff" stroke-opacity="0.10" stroke-width="1.2"/><path d="M22,26 V58.2" stroke="#000" stroke-opacity="0.04" stroke-width="1"/><path transform="translate(0,0)" d="M2.5,5.8 C8,6.2 13,9.5 15.5,16.5" fill="none" stroke="#666" stroke-opacity="0.6" stroke-width="0.7"/><path transform="translate(0,0)" d="M1.0,5.6 L2.4,5.8 L3.6,7.4 L4.8,8.8 L5.6,10.4 L6.4,12.2 L6.9,14.0 L7.4,15.8 L7.6,17.8 L7.3,19.8 L6.4,21.4 L5.2,22.4 L3.8,23.0 L1.0,23.1 Z" fill="#0a0a0a"/><path d="M6.85,15.86 L16.59,22.59" stroke="#1a1a1a" stroke-width="2.5" stroke-linecap="round"/><path d="M9.73,17.85 L14.95,21.46" stroke="#777" stroke-width="0.7" stroke-linecap="round"/><path d="M8.5,17 L56.1,49.9" stroke="#333" stroke-width="1.0" stroke-linecap="round"/><path d="M8.22,17.41 L15.32,22.4 L27.14,30.74 L41.52,40.46 L53.52,48.54 L55.99,50.06 L56.21,49.74 L53.92,47.97 L42.12,39.6 L27.94,29.58 L15.96,21.47 L8.78,16.59 Z" fill="#353535"/></g></g>
<text x="36.93" y="8.2" font-size="9.6" text-anchor="middle" fill="#231f20" stroke="#231f20" stroke-width="0.04"><tspan font-style="italic">T</tspan> = 0.0</text>
<g transform="translate(71.46,12)"><rect x="0" y="0" width="71.51" height="58.2" fill="url(#ga)"/><g filter="url(#soft)"><path d="M20.5,24 V58.2" stroke="#ffffff" stroke-opacity="0.10" stroke-width="1.2"/><path d="M22,26 V58.2" stroke="#000" stroke-opacity="0.04" stroke-width="1"/><path transform="translate(0,0)" d="M2.5,5.8 C8,6.2 13,9.5 15.5,16.5" fill="none" stroke="#666" stroke-opacity="0.6" stroke-width="0.7"/><path transform="translate(0,0)" d="M1.0,5.6 L2.4,5.8 L3.6,7.4 L4.8,8.8 L5.6,10.4 L6.4,12.2 L6.9,14.0 L7.4,15.8 L7.6,17.8 L7.3,19.8 L6.4,21.4 L5.2,22.4 L3.8,23.0 L1.0,23.1 Z" fill="#0a0a0a"/><path d="M7.3,15.95 L17.33,22.12" stroke="#1a1a1a" stroke-width="2.5" stroke-linecap="round"/><path d="M10.28,17.79 L15.63,21.07" stroke="#777" stroke-width="0.7" stroke-linecap="round"/><path d="M9,17 L58,47.1" stroke="#333" stroke-width="1.0" stroke-linecap="round"/><path d="M8.74,17.43 L15.93,22.2 L28.08,29.89 L42.91,38.71 L55.37,45.89 L57.9,47.27 L58.1,46.93 L55.73,45.3 L43.69,37.43 L29.12,28.19 L16.77,20.83 L9.26,16.57 Z" fill="#353535"/></g></g>
<text x="108.39" y="8.2" font-size="9.6" text-anchor="middle" fill="#231f20" stroke="#231f20" stroke-width="0.04"><tspan font-style="italic">T</tspan> = 0.1</text>
<g transform="translate(142.92,12)"><rect x="0" y="0" width="71.51" height="58.2" fill="url(#ga)"/><g filter="url(#soft)"><path d="M20.5,24 V58.2" stroke="#ffffff" stroke-opacity="0.10" stroke-width="1.2"/><path d="M22,26 V58.2" stroke="#000" stroke-opacity="0.04" stroke-width="1"/><path transform="translate(0,-0.4)" d="M2.5,5.8 C8,6.2 13,9.5 15.5,16.5" fill="none" stroke="#666" stroke-opacity="0.6" stroke-width="0.7"/><path transform="translate(0,-0.4)" d="M1.0,5.6 L2.4,5.8 L3.6,7.4 L4.8,8.8 L5.6,10.4 L6.4,12.2 L6.9,14.0 L7.4,15.8 L7.6,17.8 L7.3,19.8 L6.4,21.4 L5.2,22.4 L3.8,23.0 L1.0,23.1 Z" fill="#0a0a0a"/><path d="M6.71,15.94 L17.95,19.85" stroke="#1a1a1a" stroke-width="2.5" stroke-linecap="round"/><path d="M10.02,17.09 L16.06,19.19" stroke="#777" stroke-width="0.7" stroke-linecap="round"/><path d="M8.6,16.6 L63.6,35.7" stroke="#333" stroke-width="1.0" stroke-linecap="round"/><path d="M8.44,17.07 L16.59,20.22 L30.27,25.18 L46.85,30.68 L60.74,35.08 L63.53,35.89 L63.67,35.51 L60.96,34.41 L47.35,29.26 L30.93,23.3 L17.11,18.71 L8.76,16.13 Z" fill="#353535"/></g></g>
<text x="179.85" y="8.2" font-size="9.6" text-anchor="middle" fill="#231f20" stroke="#231f20" stroke-width="0.04"><tspan font-style="italic">T</tspan> = 0.2</text>
<g transform="translate(214.38,12)"><rect x="0" y="0" width="71.51" height="58.2" fill="url(#ga)"/><g filter="url(#soft)"><path d="M20.5,24 V58.2" stroke="#ffffff" stroke-opacity="0.10" stroke-width="1.2"/><path d="M22,26 V58.2" stroke="#000" stroke-opacity="0.04" stroke-width="1"/><path transform="translate(0,0)" d="M2.5,5.8 C8,6.2 13,9.5 15.5,16.5" fill="none" stroke="#666" stroke-opacity="0.6" stroke-width="0.7"/><path transform="translate(0,0)" d="M1.0,5.6 L2.4,5.8 L3.6,7.4 L4.8,8.8 L5.6,10.4 L6.4,12.2 L6.9,14.0 L7.4,15.8 L7.6,17.8 L7.3,19.8 L6.4,21.4 L5.2,22.4 L3.8,23.0 L1.0,23.1 Z" fill="#0a0a0a"/><path d="M8.12,16.72 L19.7,18.34" stroke="#1a1a1a" stroke-width="2.5" stroke-linecap="round"/><path d="M11.59,17.21 L17.72,18.07" stroke="#777" stroke-width="0.7" stroke-linecap="round"/><path d="M10.1,17 L66.6,24.9" stroke="#333" stroke-width="1.0" stroke-linecap="round"/><path d="M10.03,17.5 L18.49,18.82 L32.59,20.95 L49.57,23.12 L63.73,24.85 L66.57,25.1 L66.63,24.7 L63.82,24.16 L49.73,21.94 L32.81,19.37 L18.66,17.55 L10.17,16.5 Z" fill="#353535"/></g></g>
<text x="251.31" y="8.2" font-size="9.6" text-anchor="middle" fill="#231f20" stroke="#231f20" stroke-width="0.04"><tspan font-style="italic">T</tspan> = 0.3</text>
<g transform="translate(285.84,12)"><rect x="0" y="0" width="71.51" height="58.2" fill="url(#ga)"/><g filter="url(#soft)"><path d="M20.5,24 V58.2" stroke="#ffffff" stroke-opacity="0.10" stroke-width="1.2"/><path d="M22,26 V58.2" stroke="#000" stroke-opacity="0.04" stroke-width="1"/><path transform="translate(0,-0.4)" d="M2.5,5.8 C8,6.2 13,9.5 15.5,16.5" fill="none" stroke="#666" stroke-opacity="0.6" stroke-width="0.7"/><path transform="translate(0,-0.4)" d="M1.0,5.6 L2.4,5.8 L3.6,7.4 L4.8,8.8 L5.6,10.4 L6.4,12.2 L6.9,14.0 L7.4,15.8 L7.6,17.8 L7.3,19.8 L6.4,21.4 L5.2,22.4 L3.8,23.0 L1.0,23.1 Z" fill="#0a0a0a"/><path d="M6.51,16.41 L18.48,17.57" stroke="#1a1a1a" stroke-width="2.5" stroke-linecap="round"/><path d="M9.99,16.74 L16.49,17.38" stroke="#777" stroke-width="0.7" stroke-linecap="round"/><path d="M8.5,16.6 L67.2,22.3" stroke="#333" stroke-width="1.0" stroke-linecap="round"/></g></g>
<text x="322.77" y="8.2" font-size="9.6" text-anchor="middle" fill="#231f20" stroke="#231f20" stroke-width="0.04"><tspan font-style="italic">T</tspan> = 0.4</text>
<g transform="translate(0,83.2)"><rect x="0" y="0" width="71.51" height="58.2" fill="url(#ga)"/><g filter="url(#soft)"><path d="M20.5,24 V58.2" stroke="#ffffff" stroke-opacity="0.10" stroke-width="1.2"/><path d="M22,26 V58.2" stroke="#000" stroke-opacity="0.04" stroke-width="1"/><path transform="translate(0,0)" d="M2.5,5.8 C8,6.2 13,9.5 15.5,16.5" fill="none" stroke="#666" stroke-opacity="0.6" stroke-width="0.7"/><path transform="translate(0,0)" d="M1.0,5.6 L2.4,5.8 L3.6,7.4 L4.8,8.8 L5.6,10.4 L6.4,12.2 L6.9,14.0 L7.4,15.8 L7.6,17.8 L7.3,19.8 L6.4,21.4 L5.2,22.4 L3.8,23.0 L1.0,23.1 Z" fill="#0a0a0a"/><path d="M6.53,16.66 L18.39,18.68" stroke="#1a1a1a" stroke-width="2.5" stroke-linecap="round"/><path d="M9.98,17.25 L16.42,18.35" stroke="#777" stroke-width="0.7" stroke-linecap="round"/><path d="M8.5,17 L66.7,26.9" stroke="#333" stroke-width="1.0" stroke-linecap="round"/></g></g>
<text x="36.93" y="80.2" font-size="9.6" text-anchor="middle" fill="#231f20" stroke="#231f20" stroke-width="0.04"><tspan font-style="italic">T</tspan> = 0.5</text>
<g transform="translate(71.46,83.2)"><rect x="0" y="0" width="71.51" height="58.2" fill="url(#ga)"/><g filter="url(#soft)"><path d="M20.5,24 V58.2" stroke="#ffffff" stroke-opacity="0.10" stroke-width="1.2"/><path d="M22,26 V58.2" stroke="#000" stroke-opacity="0.04" stroke-width="1"/><path transform="translate(0,0)" d="M2.5,5.8 C8,6.2 13,9.5 15.5,16.5" fill="none" stroke="#666" stroke-opacity="0.6" stroke-width="0.7"/><path transform="translate(0,0)" d="M1.0,5.6 L2.4,5.8 L3.6,7.4 L4.8,8.8 L5.6,10.4 L6.4,12.2 L6.9,14.0 L7.4,15.8 L7.6,17.8 L7.3,19.8 L6.4,21.4 L5.2,22.4 L3.8,23.0 L1.0,23.1 Z" fill="#0a0a0a"/><path d="M7.04,16.6 L18.71,18.99" stroke="#1a1a1a" stroke-width="2.5" stroke-linecap="round"/><path d="M10.47,17.3 L16.75,18.59" stroke="#777" stroke-width="0.7" stroke-linecap="round"/><path d="M9,17 L66.1,28.7" stroke="#333" stroke-width="1.0" stroke-linecap="round"/><path d="M8.9,17.49 L17.4,19.54 L31.64,22.66 L48.82,25.92 L63.17,28.46 L66.06,28.9 L66.14,28.5 L63.32,27.77 L49.12,24.46 L32.04,20.7 L17.73,17.97 L9.1,16.51 Z" fill="#353535"/></g></g>
<text x="108.39" y="80.2" font-size="9.6" text-anchor="middle" fill="#231f20" stroke="#231f20" stroke-width="0.04"><tspan font-style="italic">T</tspan> = 0.6</text>
<g transform="translate(142.92,83.2)"><rect x="0" y="0" width="71.51" height="58.2" fill="url(#ga)"/><g filter="url(#soft)"><path d="M20.5,24 V58.2" stroke="#ffffff" stroke-opacity="0.10" stroke-width="1.2"/><path d="M22,26 V58.2" stroke="#000" stroke-opacity="0.04" stroke-width="1"/><path transform="translate(0,0.6)" d="M2.5,5.8 C8,6.2 13,9.5 15.5,16.5" fill="none" stroke="#666" stroke-opacity="0.6" stroke-width="0.7"/><path transform="translate(0,0.6)" d="M1.0,5.6 L2.4,5.8 L3.6,7.4 L4.8,8.8 L5.6,10.4 L6.4,12.2 L6.9,14.0 L7.4,15.8 L7.6,17.8 L7.3,19.8 L6.4,21.4 L5.2,22.4 L3.8,23.0 L1.0,23.1 Z" fill="#0a0a0a"/><path d="M6.64,17.21 L18.38,19.55" stroke="#1a1a1a" stroke-width="2.5" stroke-linecap="round"/><path d="M10.07,17.89 L16.41,19.16" stroke="#777" stroke-width="0.7" stroke-linecap="round"/><path d="M8.6,17.6 L66.1,29.1" stroke="#333" stroke-width="1.0" stroke-linecap="round"/><path d="M8.5,18.09 L17.09,19.99 L31.43,23.03 L48.72,26.28 L63.16,28.87 L66.06,29.3 L66.14,28.9 L63.29,28.18 L48.98,25.02 L31.77,21.37 L17.36,18.66 L8.7,17.11 Z" fill="#353535"/></g></g>
<text x="179.85" y="80.2" font-size="9.6" text-anchor="middle" fill="#231f20" stroke="#231f20" stroke-width="0.04"><tspan font-style="italic">T</tspan> = 0.7</text>
<g transform="translate(214.38,83.2)"><rect x="0" y="0" width="71.51" height="58.2" fill="url(#ga)"/><g filter="url(#soft)"><path d="M20.5,24 V58.2" stroke="#ffffff" stroke-opacity="0.10" stroke-width="1.2"/><path d="M22,26 V58.2" stroke="#000" stroke-opacity="0.04" stroke-width="1"/><path transform="translate(0,0.6)" d="M2.5,5.8 C8,6.2 13,9.5 15.5,16.5" fill="none" stroke="#666" stroke-opacity="0.6" stroke-width="0.7"/><path transform="translate(0,0.6)" d="M1.0,5.6 L2.4,5.8 L3.6,7.4 L4.8,8.8 L5.6,10.4 L6.4,12.2 L6.9,14.0 L7.4,15.8 L7.6,17.8 L7.3,19.8 L6.4,21.4 L5.2,22.4 L3.8,23.0 L1.0,23.1 Z" fill="#0a0a0a"/><path d="M8.19,17.01 L19.45,20.49" stroke="#1a1a1a" stroke-width="2.5" stroke-linecap="round"/><path d="M11.53,18.04 L17.54,19.9" stroke="#777" stroke-width="0.7" stroke-linecap="round"/><path d="M10.1,17.6 L65.1,34.6" stroke="#333" stroke-width="1.0" stroke-linecap="round"/><path d="M9.95,18.08 L18.04,21.14 L31.72,25.64 L48.31,30.43 L62.25,34.08 L65.04,34.79 L65.16,34.41 L62.45,33.42 L48.89,28.57 L32.48,23.16 L18.66,19.16 L10.25,17.12 Z" fill="#353535"/></g></g>
<text x="251.31" y="80.2" font-size="9.6" text-anchor="middle" fill="#231f20" stroke="#231f20" stroke-width="0.04"><tspan font-style="italic">T</tspan> = 0.8</text>
<g transform="translate(285.84,83.2)"><rect x="0" y="0" width="71.51" height="58.2" fill="url(#ga)"/><g filter="url(#soft)"><path d="M20.5,24 V58.2" stroke="#ffffff" stroke-opacity="0.10" stroke-width="1.2"/><path d="M22,26 V58.2" stroke="#000" stroke-opacity="0.04" stroke-width="1"/><path transform="translate(0,1.6)" d="M2.5,5.8 C8,6.2 13,9.5 15.5,16.5" fill="none" stroke="#666" stroke-opacity="0.6" stroke-width="0.7"/><path transform="translate(0,1.6)" d="M1.0,5.6 L2.4,5.8 L3.6,7.4 L4.8,8.8 L5.6,10.4 L6.4,12.2 L6.9,14.0 L7.4,15.8 L7.6,17.8 L7.3,19.8 L6.4,21.4 L5.2,22.4 L3.8,23.0 L1.0,23.1 Z" fill="#0a0a0a"/><path d="M7.41,17.7 L18.01,23.02" stroke="#1a1a1a" stroke-width="2.5" stroke-linecap="round"/><path d="M10.54,19.27 L16.22,22.12" stroke="#777" stroke-width="0.7" stroke-linecap="round"/><path d="M9.2,18.6 L61,44.6" stroke="#333" stroke-width="1.0" stroke-linecap="round"/></g></g>
<text x="322.77" y="80.2" font-size="9.6" text-anchor="middle" fill="#231f20" stroke="#231f20" stroke-width="0.04"><tspan font-style="italic">T</tspan> = 0.9</text>
<path d="M303,29.6 L330,31.2 L352.5,34.2 L330,33.6 L303,31.8 Z" fill="#222" filter="url(#soft)"/>
<path d="M39.2,56.2 C44,51 48.5,43 50.2,33" fill="none" stroke="#ee1c25" stroke-width="1.3"/>
<path d="M50.9,28.6 L47.9,34.8 L53.2,34.6 Z" fill="#ee1c25"/>
<path d="M322.2,53.6 C326,45 329,38 331.8,31.5" fill="none" stroke="#ee1c25" stroke-width="1.3" stroke-dasharray="2.2,1.6"/>
<path d="M333.2,27 L329.5,32.8 L334.8,33.6 Z" fill="#ee1c25"/>
<path d="M32.2,101.2 C32,106 34,109 37,108 C40,107 41,104 43.5,104.5 C46.5,105 46,110 44.5,114 C43.8,116.5 43.3,118.5 43,120.5" fill="none" stroke="#ee1c25" stroke-width="1.3"/>
<path d="M42.2,125.2 L40,119.2 L45.4,120.2 Z" fill="#ee1c25"/>
<path d="M316,101 C316.5,105 318,108 320.5,107.4 C322.5,106.8 323.5,104.5 326,104.2 C329.5,104 330,109 329,113 C328.5,115.5 327.8,117.5 327.3,119.5" fill="none" stroke="#ee1c25" stroke-width="1.3" stroke-dasharray="2.2,1.6"/>
<path d="M326.4,124.4 L324,118.4 L329.6,118.9 Z" fill="#ee1c25"/>
<rect x="328.2" y="144" width="29.5" height="1.6" fill="#000"/>
<g clip-path="url(#cc1)"><rect x="0" y="167" width="168.2" height="61.3" fill="url(#gc1)"/><rect x="0" y="167" width="168.2" height="61.3" fill="url(#gctop)"/><ellipse cx="80.5" cy="222" rx="20" ry="14" fill="url(#gglow)"/><g filter="url(#soft)"><path d="M48.5,197.2 L40,199.6 C30,202.5 15,207 4,212.4 C8,214.6 18,213.6 28,210.4 C37,207 44,202.5 48.5,199.4 Z" fill="#333" fill-opacity="0.28" stroke="#161616" stroke-width="0.8"/><path d="M40,200.2 L14,212.6 M34,202 L10,213.2 M44,199.2 L26,209.6" stroke="#1a1a1a" stroke-width="0.5" fill="none"/><path d="M111,196.5 L162,206.5 L150,206.8 L112,199.5 Z" fill="#1e1e1e"/><path d="M52,216 C40,221 30,224 20,228" stroke="#222" stroke-width="0.4" fill="none"/><g transform="translate(0,0)"><path d="M52,191 L108,191 C111,191 111.8,194 111.8,198 C111.8,203 111,205.5 108,205.5 L95,205.5 C88,208 74,208.6 67,205.8 L52,205.5 C49.5,205.5 48.6,202 48.6,198 C48.6,194 49.5,191 52,191 Z" fill="#070707"/><circle cx="64.5" cy="191.6" r="2.9" fill="#070707"/><circle cx="102" cy="191.8" r="3.6" fill="#070707"/><path d="M57.5,204 L67,204 L65.2,228.5 L52.6,228.5 Z" fill="#0a0a0a"/><path d="M94.9,204 L104.8,204 L103.8,228.5 L93.9,228.5 Z" fill="#0a0a0a"/></g></g></g>
<g clip-path="url(#cc2)"><rect x="170" y="167" width="168.2" height="61.3" fill="url(#gc2)"/><rect x="170" y="167" width="168.2" height="61.3" fill="url(#gctop)"/><ellipse cx="250.5" cy="222" rx="20" ry="14" fill="url(#gglow)"/><g filter="url(#soft)"><path d="M219,197.2 L210,200 C200,203 186,208 173,212.8 C178,215 188,214 198,210.6 C207,207 214,202.5 219,199.5 Z" fill="#333" fill-opacity="0.28" stroke="#161616" stroke-width="0.8"/><path d="M210,200.6 L184,213 M204,202.4 L180,213.6 M214,199.6 L196,210" stroke="#1a1a1a" stroke-width="0.5" fill="none"/><path d="M282,197 L330,222 L326,222.6 L282,199.8 Z" fill="#1e1e1e"/><path d="M222,216 C210,221 200,224 190,228" stroke="#222" stroke-width="0.4" fill="none"/><g transform="translate(170.3,0)"><path d="M52,189.2 L108,189.2 C110.8,189.2 111.5,193 111.5,197 C111.5,202 110.5,204.5 108,204.5 L95,204.5 C88,206 74,206.2 67,204.8 L52,204.5 C49.5,204.5 48.6,201 48.6,197 C48.6,193 49.5,189.2 52,189.2 Z" fill="#070707"/><path d="M56.6,190 L58.3,184.8 L60,190 Z M99.6,190 L101.6,185.6 L103.4,190 Z" fill="#070707"/><path d="M57.5,204 L67,204 L65.2,228.5 L52.6,228.5 Z" fill="#0a0a0a"/><path d="M94.9,204 L104.8,204 L103.8,228.5 L93.9,228.5 Z" fill="#0a0a0a"/></g></g></g>
<path d="M81.8,187.4 H254.3" stroke="#ee1c25" stroke-width="1.2"/>
<path d="M88.5,167.3 V182.4" stroke="#ee1c25" stroke-width="1.1"/>
<path d="M88.5,186.4 L86.3,181.2 L90.7,181.2 Z" fill="#ee1c25"/>
<path d="M88.5,211.5 V195" stroke="#ee1c25" stroke-width="1.1"/>
<path d="M88.5,190.6 L86.3,195.8 L90.7,195.8 Z" fill="#ee1c25"/>
<path d="M81.5,190.8 H95" stroke="#ee1c25" stroke-width="1.1" stroke-dasharray="2,1.3"/>
<path d="M110.7,196.8 L165.5,205.8" stroke="#ee1c25" stroke-width="1.3"/>
<path d="M112.2,197.7 L157.2,222.3" stroke="#ee1c25" stroke-width="1.2" stroke-dasharray="2.4,2"/>
<path d="M282.2,197.7 L328.7,222.8" stroke="#ee1c25" stroke-width="1.3"/>
<path d="M282.2,197.7 L338.2,207" stroke="#ee1c25" stroke-width="1.2" stroke-dasharray="2.4,2"/>
<rect x="311" y="230.3" width="27.2" height="1.5" fill="#000"/>
<text x="88.5" y="163.7" font-size="9.6" text-anchor="middle" fill="#231f20" stroke="#231f20" stroke-width="0.04"><tspan font-style="italic">T</tspan> = 0.0</text>
<text x="254.2" y="163.7" font-size="9.6" text-anchor="middle" fill="#231f20" stroke="#231f20" stroke-width="0.04"><tspan font-style="italic">T</tspan> = 1.0</text>
<g clip-path="url(#ce)"><rect x="7.6" y="332.4" width="329.3" height="98.1" fill="url(#ge)"/><g filter="url(#soft2)"><path d="M8,384 C40,396 80,407 125,412" fill="none" stroke="#ee8c8c" stroke-width="0.5" stroke-opacity="0.8"/><path d="M22,394 C50,405 90,414 125,418" fill="none" stroke="#ee8c8c" stroke-width="0.45" stroke-opacity="0.7"/><ellipse cx="165" cy="419" rx="75" ry="3" fill="#000" fill-opacity="0.08"/><path d="M80,379.7 C70,377.5 60,374.5 50.9,374.3 C40,373.6 30,373.5 24,375.6 C19.5,377 18.5,380.5 19.5,384 C21,390 26,396 34,400 C42,404 55,405 68.4,403.8 C78,402.5 86,397.5 88.8,391 C89.6,388.5 88,386 86,384.5" fill="#f2eeee" fill-opacity="0.5" stroke="#a89888" stroke-width="0.5"/><path d="M80,379.7 C70,377.5 60,374.5 50.9,374.3 C40,373.6 30,373.5 24,375.6 C21,376.8 19.6,378.4 19.5,380" fill="none" stroke="#4e4232" stroke-width="1.1"/><path d="M51.6,375 L27.5,394.3 M74.2,382.6 L45.8,403.5" stroke="#4a3c2c" stroke-width="1.1"/><path d="M71,378.2 L81,379.5 L81,388 L78,388 Z" fill="none" stroke="#6f5f4d" stroke-width="0.9"/><path d="M251.4,379.7 C262,378 272,377 282,377 C292,376.8 302,377.5 307.5,380 C311,382 311.5,386 309,390 C305,396 295,403 283,407 C275,409 262,408.5 253,404 C246,400.5 243,395 243,390 C243,387 245,384 248,382.5" fill="#f2eeee" fill-opacity="0.5" stroke="#a89888" stroke-width="0.5"/><path d="M251.4,379.7 C262,378 272,377 282,377 C292,376.8 302,377.5 307.5,380 C310,381.4 311,383 311,385" fill="none" stroke="#4e4232" stroke-width="1.1"/><path d="M280,378.5 L302.1,398.7 M257.8,385.2 L283.7,407.4" stroke="#4a3c2c" stroke-width="1.1"/><path d="M252,379.8 L244,381 L243.5,389.5 L247,389 Z" fill="none" stroke="#6f5f4d" stroke-width="0.9"/><path d="M81,379.5 L92,378.5 L100,374 L106,372 L112,371.5 L112,386.5 L104,386.5 L96,385 L81,384.5 Z" fill="#161310"/><path d="M81,381.5 H99" stroke="#c8b040" stroke-width="0.8"/><path d="M100.5,372.5 V386 M103,372 V386" stroke="#b09a38" stroke-width="0.7"/><path d="M219.5,371 L228,371 L236,378 L251,380 L251,385 L236,385 L228,386 L219.5,386 Z" fill="#161310"/><path d="M232,382 H251" stroke="#c8b040" stroke-width="0.8"/><path d="M222.5,371 V386 M225,371 V386" stroke="#b09a38" stroke-width="0.7"/><rect x="118" y="372" width="8" height="8.5" fill="#d8cfbe"/><rect x="205" y="371.5" width="9" height="8.5" fill="#d8cfbe"/><path d="M128,359 C150,361 180,361 203,359 L203,396 C180,394 150,394 128,396 Z" fill="url(#gcoil)"/><ellipse cx="128" cy="377.5" rx="3.4" ry="19.3" fill="#262422"/><ellipse cx="203.5" cy="377.5" rx="3" ry="18.5" fill="#262422"/><path d="M132,366 C150,368 180,368 198,366" stroke="#2a2a30" stroke-width="2" fill="none" stroke-opacity="0.7"/><rect x="107.7" y="348.3" width="115.7" height="4" fill="#302b28"/><rect x="107.7" y="402.6" width="115.7" height="4.4" fill="#302b28"/><rect x="112" y="348.3" width="7" height="58.7" fill="#302b28"/><rect x="213" y="348.3" width="6.5" height="59" fill="#302b28"/><rect x="107.7" y="347.8" width="11.3" height="6.5" rx="1" fill="#302b28"/><rect x="107.7" y="401.2" width="11.3" height="6.6" rx="1" fill="#302b28"/><rect x="212.5" y="347.8" width="10.9" height="6.3" rx="1" fill="#302b28"/><rect x="212.5" y="401.8" width="10.9" height="6.6" rx="1" fill="#302b28"/><rect x="124" y="415.6" width="82" height="2.8" fill="#1f1f1f"/><rect x="137" y="403" width="8" height="13.5" fill="#1a1a1a"/><rect x="181" y="403" width="7.2" height="15" fill="#1a1a1a"/><rect x="158.6" y="410.7" width="8.4" height="13.5" fill="#3c3a3a"/><circle cx="161" cy="414.5" r="0.6" fill="#bbb"/><circle cx="164" cy="420" r="0.6" fill="#bbb"/></g></g>
<path d="M165.5,343.7 V408.7" stroke="#ee1c25" stroke-width="1.3"/>
<path d="M159.2,355 V397.5" stroke="#ee1c25" stroke-width="1.2" stroke-dasharray="2.4,1.6"/>
<ellipse cx="165.5" cy="356.2" rx="6.2" ry="2.5" fill="none" stroke="#ee1c25" stroke-width="1.4"/>
<ellipse cx="165.5" cy="399.6" rx="6.2" ry="2.5" fill="none" stroke="#ee1c25" stroke-width="1.4"/>
<path d="M163,343 C161,346 162,349 165.5,350 C168,351 168,354 166,356" fill="none" stroke="#ee1c25" stroke-width="1.1"/>
<path d="M128.3,339.3 L159.6,374.2" stroke="#ee1c25" stroke-width="1.2"/>
<path d="M161.6,376.4 L156.4,373.8 L159.6,371 Z" fill="#ee1c25"/>
<path d="M216,419 L177,359.8" stroke="#ee1c25" stroke-width="1.2"/>
<path d="M175.2,357 L180.4,360 L176.6,362.4 Z" fill="#ee1c25"/>
<path d="M209.5,420.4 L176.6,402.9" stroke="#ee1c25" stroke-width="1.2"/>
<path d="M173.6,401.3 L179.6,401.6 L177.4,405.4 Z" fill="#ee1c25"/>
<rect x="302.6" y="425.1" width="31.4" height="1.6" fill="#000"/>
<text x="75" y="341.9" font-size="9.3" text-anchor="start" font-weight="normal" font-style="normal" fill="#231f20" stroke="#231f20" stroke-width="0.12" >Constraint 1</text>
<text x="212" y="428.8" font-size="9.3" text-anchor="start" font-weight="normal" font-style="normal" fill="#231f20" stroke="#231f20" stroke-width="0.12" >Constraints 2 and 3</text>
</svg>
</body></html>
